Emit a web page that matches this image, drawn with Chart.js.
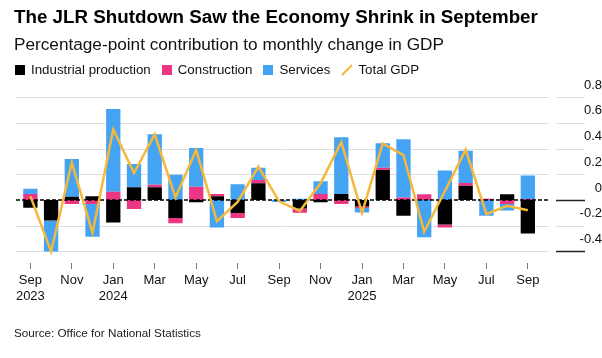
<!DOCTYPE html>
<html>
<head>
<meta charset="utf-8">
<script src="https://cdn.jsdelivr.net/npm/chart.js@4.4.1/dist/chart.umd.min.js"></script>
<style>
 body{margin:0;background:#fff;font-family:'Liberation Sans',Arial,sans-serif;color:#000;}
 #wrap{position:relative;width:602px;height:358px;overflow:hidden;}
 #chart{position:absolute;left:0;top:0;}
 .txt{position:absolute;left:14px;white-space:nowrap;}
 #title{top:6px;font-size:18.8px;line-height:22px;font-weight:bold;}
 #subtitle{top:34px;font-size:17.2px;line-height:20px;color:#111;}
 #legend{top:62px;left:15px;font-size:13.3px;line-height:16px;display:flex;align-items:center;color:#111;}
 #legend .item{display:flex;align-items:center;margin-right:11px;}
 #legend .box{width:10px;height:10px;margin-right:6px;}
 #legend svg{margin-right:5px;}
 #source{top:326px;font-size:11.7px;line-height:14px;color:#222;}
</style>
</head>
<body>
<div id="wrap">
 <canvas id="chart" width="602" height="358"></canvas>
 <div class="txt" id="title">The JLR Shutdown Saw the Economy Shrink in September</div>
 <div class="txt" id="subtitle">Percentage-point contribution to monthly change in GDP</div>
 <div class="txt" id="legend"></div>
 <div class="txt" id="source">Source: Office for National Statistics</div>
</div>
<script>
 // data
 var months=["Sep 2023","Oct 2023","Nov 2023","Dec 2023","Jan 2024","Feb 2024","Mar 2024","Apr 2024","May 2024","Jun 2024","Jul 2024","Aug 2024","Sep 2024","Oct 2024","Nov 2024","Dec 2024","Jan 2025","Feb 2025","Mar 2025","Apr 2025","May 2025","Jun 2025","Jul 2025","Aug 2025","Sep 2025"];
 var industrial=[-0.06,-0.16,0.026,0.03,-0.174,0.099,0.099,-0.14,-0.018,0.03,-0.10,0.13,0,-0.065,-0.018,0.047,-0.05,0.234,-0.122,0,-0.19,0.112,0,0.044,-0.26];
 var construction=[0.047,0,-0.03,-0.03,0.065,-0.07,0.02,-0.04,0.104,0.016,-0.04,0.026,0,-0.034,0.047,-0.03,-0.012,0.018,0.02,0.044,-0.023,0.021,0.01,-0.03,0.008];
 var services=[0.04,-0.24,0.293,-0.255,0.643,0.182,0.392,0.197,0.30,-0.213,0.122,0.096,-0.015,0.01,0.10,0.441,-0.035,0.19,0.452,-0.29,0.229,0.25,-0.122,-0.052,0.182];
 var total_gdp=[0.03,-0.40,0.29,-0.255,0.55,0.21,0.51,0.02,0.39,-0.165,-0.015,0.26,-0.01,-0.085,0.13,0.45,-0.10,0.44,0.35,-0.247,0.07,0.39,-0.11,-0.045,-0.08];
 var y_ticks=[-0.4,-0.2,0,0.2,0.4,0.6,0.8];
 // colors
 var c_black="#000000",c_pink="#ec3583",c_blue="#45a3f3",c_gold="#f5b83a";
 // legend (html)
 var legend_items=[["Industrial production",c_black,"box"],["Construction",c_pink,"box"],["Services",c_blue,"box"],["Total GDP",c_gold,"line"]];
 var legend_html="";
 legend_items.forEach(function(it){
  var sym=it[2]=="box"?'<span class="box" style="background:'+it[1]+'"></span>'
   :'<svg width="12" height="12"><line x1="1" y1="11" x2="11" y2="1" stroke="'+it[1]+'" stroke-width="2"/></svg>';
  legend_html+='<span class="item">'+sym+it[0]+'</span>';
 });
 document.getElementById("legend").innerHTML=legend_html;
 // grid plugin: lines across plot and short rules under the right labels
 var grid_plugin={
  id:"grid_plugin",
  beforeDatasetsDraw:function(chart){
   var ctx=chart.ctx,y=chart.scales.y;
   ctx.save();
   y.ticks.forEach(function(t,i){
    var py=Math.round(y.getPixelForValue(t.value))+0.5;
    if(t.value!==0){
     ctx.strokeStyle="#dedede";ctx.lineWidth=1;
     ctx.beginPath();ctx.moveTo(16,py);ctx.lineTo(549,py);ctx.stroke();
    }
    var dark=(t.value===0||i===0);
    ctx.strokeStyle=dark?"#222":"#dedede";ctx.lineWidth=dark?1.5:1;
    ctx.beginPath();ctx.moveTo(556,py);ctx.lineTo(585,py);ctx.stroke();
   });
   ctx.restore();
  },
  beforeDatasetDraw:function(chart,args){
   if(args.index!==3)return;
   var ctx=chart.ctx,y=chart.scales.y;
   var py=Math.round(y.getPixelForValue(0));
   ctx.save();
   ctx.strokeStyle="#000";ctx.lineWidth=1.5;ctx.setLineDash([4,2]);
   ctx.beginPath();ctx.moveTo(16,py);ctx.lineTo(549,py);ctx.stroke();
   ctx.restore();
  }
 };
 Chart.defaults.font.family="'Liberation Sans', Arial, sans-serif";
 Chart.defaults.color="#111";
 // build chart
 var ctx=document.getElementById("chart").getContext("2d");
 var my_chart=new Chart(ctx,{
  type:"bar",
  data:{
   labels:months,
   datasets:[
    {label:"Industrial production",data:industrial,backgroundColor:c_black,order:1,barPercentage:0.69,categoryPercentage:1},
    {label:"Construction",data:construction,backgroundColor:c_pink,order:1,barPercentage:0.69,categoryPercentage:1},
    {label:"Services",data:services,backgroundColor:c_blue,order:1,barPercentage:0.69,categoryPercentage:1},
    {label:"Total GDP",type:"line",data:total_gdp,borderColor:c_gold,borderWidth:2.5,pointRadius:0,tension:0,order:0,borderJoinStyle:"miter"}
   ]
  },
  options:{
   responsive:false,
   animation:false,
   devicePixelRatio:1,
   layout:{padding:{left:20,right:0,top:89.5,bottom:35}},
   plugins:{legend:{display:false},tooltip:{enabled:false},title:{display:false}},
   scales:{
    x:{
     stacked:true,
     offset:true,
     border:{display:false},
     grid:{offset:false,drawOnChartArea:false,drawTicks:true,tickLength:6,lineWidth:1,
      color:function(c){return c.index%2?"rgba(0,0,0,0)":"#777";}},
     ticks:{autoSkip:false,maxRotation:0,padding:4,font:{size:13},color:"#111",
      callback:function(v,i){
       if(i%2)return "";
       var p=months[i].split(" ");
       return (i===0||p[0]==="Jan")?[p[0],p[1]]:p[0];
      }},
     afterFit:function(s){s.height=60;}
    },
    y:{
     stacked:true,
     position:"right",
     min:-0.49,max:0.86,
     border:{display:false},
     grid:{display:false},
     afterBuildTicks:function(s){s.ticks=y_ticks.map(function(v){return {value:v};});},
     ticks:{crossAlign:"far",padding:24,labelOffset:-12,font:{size:13},color:"#111",
      callback:function(v){return v===0?"0":v.toFixed(1);}},
     afterFit:function(s){s.width=63.8;}
    }
   }
  },
  plugins:[grid_plugin]
 });
</script>
</body>
</html>
